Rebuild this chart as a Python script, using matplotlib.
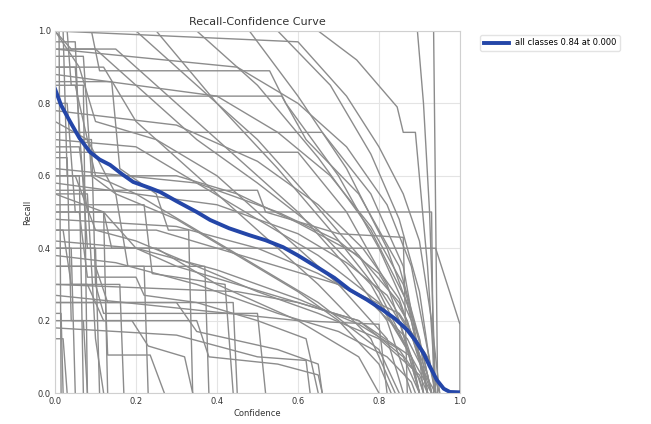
import matplotlib
matplotlib.use("Agg")
import matplotlib.pyplot as plt

# per-class recall-confidence curves, (confidence, recall) breakpoints
class_curves = [
    [(0, 1), (0.935, 1), (0.945, 0)],
    [(0, 1), (0.895, 1), (0.91, 0.8), (0.925, 0.5), (0.94, 0)],
    [(0, 1), (0.65, 1), (0.745, 0.92), (0.845, 0.79), (0.86, 0.72), (0.89, 0.72), (0.92, 0.35), (0.94, 0)],
    [(0, 1), (0.09, 1), (0.11, 0.89), (0.53, 0.89), (0.57, 0.8), (0.7, 0.6), (0.8, 0.4), (0.88, 0.2), (0.92, 0)],
    [(0, 1), (0.35, 1), (0.5, 0.85), (0.65, 0.65), (0.78, 0.45), (0.87, 0.25), (0.92, 0)],
    [(0, 1), (0.48, 1), (0.6, 0.82), (0.72, 0.62), (0.82, 0.4), (0.9, 0.15), (0.93, 0)],
    [(0, 1), (0.2, 1), (0.35, 0.85), (0.5, 0.7), (0.62, 0.55), (0.75, 0.38), (0.85, 0.2), (0.9, 0)],
    [(0, 1), (0.04, 0.95), (0.15, 0.95), (0.3, 0.8), (0.45, 0.65), (0.6, 0.5), (0.72, 0.35), (0.82, 0.2), (0.88, 0)],
    [(0, 0.82), (0.56, 0.82), (0.62, 0.7), (0.75, 0.55), (0.85, 0.35), (0.9, 0.15), (0.92, 0)],
    [(0, 0.72), (0.66, 0.72), (0.78, 0.55), (0.86, 0.35), (0.9, 0.1), (0.91, 0)],
    [(0, 0.665), (0.6, 0.665), (0.72, 0.5), (0.82, 0.3), (0.88, 0.1), (0.9, 0)],
    [(0, 0.5), (0.93, 0.5), (0.935, 0)],
    [(0, 0.4), (0.94, 0.4), (1.0, 0.19), (1.0, 0)],
    [(0, 1), (0.02, 1), (0.03, 0.6), (0.06, 0.6), (0.07, 0)],
    [(0, 1), (0.06, 0.9), (0.1, 0.75), (0.25, 0.7), (0.4, 0.6), (0.55, 0.45), (0.7, 0.3), (0.82, 0.15), (0.86, 0)],
    [(0, 0.9), (0.12, 0.9), (0.2, 0.75), (0.35, 0.6), (0.5, 0.45), (0.65, 0.3), (0.78, 0.15), (0.84, 0)],
    [(0, 0.85), (0.05, 0.85), (0.1, 0.6), (0.2, 0.55), (0.35, 0.45), (0.5, 0.35), (0.65, 0.25), (0.8, 0.12), (0.85, 0)],
    [(0, 0.8), (0.03, 0.8), (0.05, 0.5), (0.12, 0.5), (0.14, 0.4), (0.25, 0.4), (0.4, 0.3), (0.6, 0.2), (0.75, 0.1), (0.8, 0)],
    [(0, 0.75), (0.08, 0.7), (0.15, 0.55), (0.3, 0.48), (0.45, 0.38), (0.6, 0.28), (0.7, 0.2), (0.8, 0.08), (0.83, 0)],
    [(0, 0.6), (0.05, 0.6), (0.1, 0.45), (0.2, 0.42), (0.35, 0.35), (0.5, 0.28), (0.65, 0.22), (0.8, 0.15), (0.9, 0.05), (0.92, 0)],
    [(0, 0.55), (0.12, 0.5), (0.2, 0.4), (0.3, 0.35), (0.45, 0.3), (0.6, 0.25), (0.75, 0.2), (0.86, 0.1), (0.9, 0)],
    [(0, 0.5), (0.06, 0.5), (0.08, 0.32), (0.2, 0.32), (0.22, 0.27), (0.35, 0.25), (0.5, 0.2), (0.62, 0.15), (0.65, 0)],
    [(0, 0.45), (0.02, 0.45), (0.04, 0.3), (0.1, 0.3), (0.12, 0.22), (0.5, 0.22), (0.52, 0)],
    [(0, 0.35), (0.1, 0.35), (0.13, 0.25), (0.3, 0.25), (0.35, 0.17), (0.55, 0.12), (0.65, 0.08), (0.66, 0)],
    [(0, 0.3), (0.08, 0.3), (0.12, 0.2), (0.19, 0.2), (0.23, 0.13), (0.32, 0.1), (0.34, 0)],
    [(0, 0.25), (0.125, 0.25), (0.13, 0.105), (0.235, 0.105), (0.27, 0)],
    [(0, 0.2), (0.35, 0.2), (0.38, 0.1), (0.55, 0.08), (0.65, 0.05), (0.66, 0)],
    [(0, 0.15), (0.02, 0.15), (0.03, 0)],
    [(0, 1), (0.01, 1), (0.015, 0)],
    [(0, 0.9), (0.05, 0.9), (0.08, 0.4), (0.1, 0.4), (0.11, 0)],
    [(0, 1), (0.25, 1), (0.4, 0.8), (0.55, 0.62), (0.68, 0.45), (0.8, 0.28), (0.88, 0.1), (0.9, 0)],
    [(0, 0.95), (0.1, 0.95), (0.2, 0.85), (0.35, 0.7), (0.5, 0.58), (0.65, 0.45), (0.78, 0.3), (0.87, 0.12), (0.9, 0)],
    [(0, 0.6), (0.3, 0.6), (0.45, 0.55), (0.6, 0.47), (0.75, 0.38), (0.85, 0.25), (0.92, 0.05), (0.93, 0)],
    [(0, 0.7), (0.2, 0.68), (0.35, 0.58), (0.5, 0.48), (0.65, 0.38), (0.8, 0.25), (0.88, 0.1), (0.91, 0)],
    [(0, 0.45), (0.25, 0.45), (0.4, 0.4), (0.55, 0.35), (0.7, 0.3), (0.85, 0.22), (0.92, 0.1), (0.95, 0)],
    [(0, 0.3), (0.45, 0.28), (0.6, 0.25), (0.75, 0.2), (0.88, 0.1), (0.93, 0)],
    [(0, 0.35), (0.37, 0.35), (0.38, 0)],
    [(0, 0.25), (0.44, 0.25), (0.45, 0)],
    [(0, 0.65), (0.03, 0.65), (0.04, 0.2), (0.07, 0.2), (0.08, 0)],
    [(0, 0.55), (0.08, 0.55), (0.1, 0.15), (0.12, 0)],
    # denser bundle on the right, curving down late
    [(0, 0.95), (0.45, 0.9), (0.6, 0.8), (0.72, 0.68), (0.82, 0.52), (0.88, 0.35), (0.92, 0.12), (0.94, 0)],
    [(0, 0.88), (0.4, 0.82), (0.55, 0.72), (0.68, 0.6), (0.78, 0.46), (0.86, 0.3), (0.91, 0.1), (0.93, 0)],
    [(0, 0.78), (0.3, 0.74), (0.5, 0.64), (0.65, 0.52), (0.76, 0.4), (0.85, 0.26), (0.9, 0.1), (0.92, 0)],
    [(0, 0.62), (0.35, 0.58), (0.55, 0.5), (0.7, 0.42), (0.8, 0.33), (0.87, 0.2), (0.91, 0.05), (0.92, 0)],
    [(0, 0.58), (0.4, 0.52), (0.6, 0.44), (0.72, 0.36), (0.82, 0.27), (0.88, 0.16), (0.92, 0.03), (0.93, 0)],
    [(0, 0.48), (0.3, 0.46), (0.5, 0.4), (0.65, 0.33), (0.78, 0.25), (0.87, 0.15), (0.92, 0.04), (0.94, 0)],
    [(0, 0.42), (0.2, 0.4), (0.4, 0.34), (0.6, 0.26), (0.75, 0.19), (0.85, 0.12), (0.9, 0.04), (0.91, 0)],
    [(0, 0.38), (0.15, 0.36), (0.35, 0.3), (0.55, 0.22), (0.7, 0.17), (0.82, 0.1), (0.88, 0.03), (0.89, 0)],
    [(0, 1), (0.55, 1), (0.68, 0.85), (0.78, 0.66), (0.85, 0.48), (0.9, 0.28), (0.93, 0.05), (0.94, 0)],
    [(0, 1), (0.6, 0.97), (0.72, 0.82), (0.8, 0.68), (0.86, 0.55), (0.9, 0.42), (0.93, 0.2), (0.95, 0)],
    [(0, 0.56), (0.5, 0.56), (0.52, 0.5), (0.7, 0.44), (0.86, 0.43), (0.87, 0)],
    [(0, 0.27), (0.6, 0.2), (0.8, 0.19), (0.82, 0)],
    [(0, 0.18), (0.3, 0.16), (0.5, 0.1), (0.62, 0.09), (0.63, 0)],
    # early steps and vertical drops on the left
    [(0, 1), (0.03, 1), (0.04, 0.85), (0.07, 0.85), (0.08, 0)],
    [(0, 0.97), (0.05, 0.97), (0.06, 0.7), (0.09, 0.7), (0.1, 0.3), (0.16, 0.3), (0.17, 0)],
    [(0, 0.93), (0.07, 0.93), (0.09, 0.6), (0.15, 0.55), (0.18, 0.35), (0.22, 0.35), (0.23, 0)],
    [(0, 0.86), (0.14, 0.86), (0.16, 0.62), (0.25, 0.55), (0.28, 0.45), (0.33, 0.45), (0.34, 0)],
    [(0, 0.68), (0.06, 0.68), (0.08, 0.5), (0.12, 0.5), (0.13, 0)],
    [(0, 0.52), (0.22, 0.52), (0.24, 0.33), (0.42, 0.3), (0.44, 0)],
    [(0, 0.4), (0.04, 0.4), (0.05, 0)],
    [(0, 0.22), (0.015, 0.22), (0.02, 0)],
]

# mean curve over all classes
all_conf = [0.0, 0.015, 0.037, 0.06, 0.086, 0.11, 0.136, 0.165, 0.193, 0.235, 0.26, 0.3, 0.35,
            0.383, 0.43, 0.48, 0.52, 0.563, 0.6, 0.647, 0.69, 0.728, 0.77, 0.81, 0.84, 0.87,
            0.89, 0.91, 0.925, 0.943, 0.96, 0.975, 1.0]
all_recall = [0.84, 0.795, 0.75, 0.705, 0.666, 0.645, 0.63, 0.605, 0.583, 0.566, 0.555, 0.53, 0.50,
              0.478, 0.455, 0.436, 0.422, 0.403, 0.38, 0.348, 0.318, 0.285, 0.258, 0.229, 0.205, 0.174,
              0.145, 0.11, 0.075, 0.036, 0.012, 0.003, 0.002]

fig = plt.figure(figsize=(6.51, 4.24), dpi=100)
ax = fig.add_axes([0.0845, 0.073, 0.622, 0.854])

for pts in class_curves:
    xs = [p[0] for p in pts]
    ys = [p[1] for p in pts]
    ax.plot(xs, ys, color="#8c8c8c", linewidth=1)

ax.plot(all_conf, all_recall, color="#2446a8", linewidth=2.8, label="all classes 0.84 at 0.000")

ax.set_xlim(0, 1)
ax.set_ylim(0, 1)
ax.set_xticks([0, 0.2, 0.4, 0.6, 0.8, 1.0])
ax.set_yticks([0, 0.2, 0.4, 0.6, 0.8, 1.0])
ax.grid(True, color="#e4e4e4", linewidth=0.8)
ax.set_axisbelow(True)
for s in ax.spines.values():
    s.set_color("#d0d0d0")
ax.tick_params(labelsize=6, length=0, pad=3, colors="#333333")
ax.set_xlabel("Confidence", fontsize=6, labelpad=2, color="#333333")
ax.set_ylabel("Recall", fontsize=6, labelpad=4, color="#333333")
ax.set_title("Recall-Confidence Curve", fontsize=8, pad=4, color="#333333")
leg = ax.legend(bbox_to_anchor=(1.04, 1), loc="upper left", fontsize=6, frameon=True, handlelength=3)
leg.get_frame().set_edgecolor("#dddddd")

fig.savefig("out.png", dpi=100)
